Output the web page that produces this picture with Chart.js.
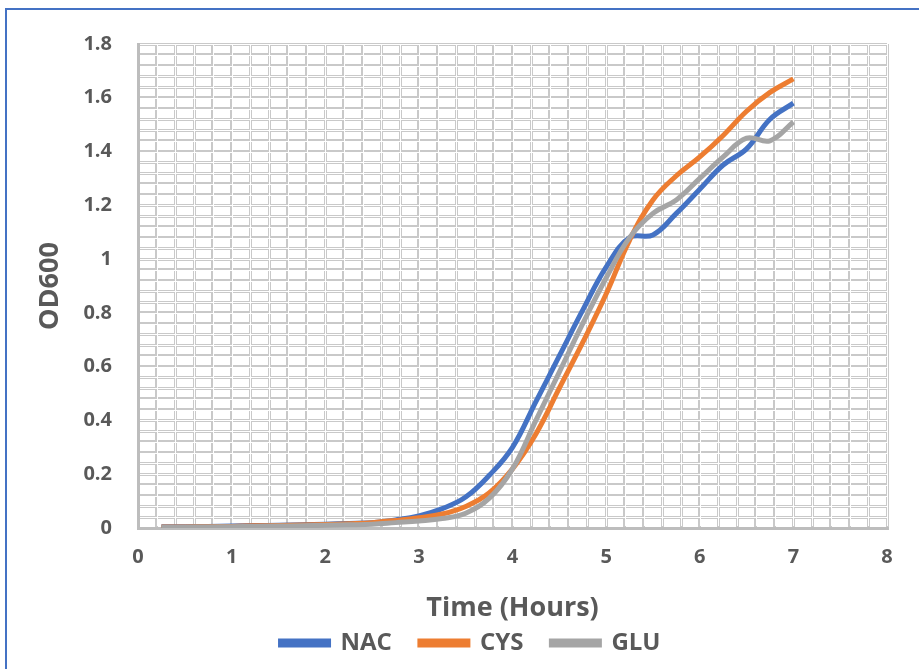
<!DOCTYPE html>
<html>
<head>
<meta charset="utf-8">
<script src="https://cdn.jsdelivr.net/npm/chart.js@4"></script>
<style>
  html, body { margin: 0; padding: 0; background: #fff; overflow: hidden; }
  #frame { position: absolute; left: 5px; top: 8px; width: 1000px; height: 1000px; border: 2px solid #4472c4; }
  #growthChart { position: absolute; left: 0; top: 0; }
</style>
</head>
<body>
<div id="frame"></div>
<canvas id="growthChart" width="919" height="669"></canvas>
<script>
// sampling times (hours)
const hours = [0.25, 0.5, 0.75, 1, 1.25, 1.5, 1.75, 2, 2.25, 2.5, 2.75, 3, 3.25, 3.5,
               3.75, 4, 4.25, 4.5, 4.75, 5, 5.25, 5.5, 5.75, 6, 6.25, 6.5, 6.75, 7];

// OD600 readings
const nac = [0.005, 0.005, 0.006, 0.007, 0.009, 0.010, 0.012, 0.014, 0.017, 0.020, 0.030, 0.045, 0.072, 0.115,
             0.195, 0.30, 0.47, 0.64, 0.81, 0.97, 1.08, 1.09, 1.17, 1.26, 1.35, 1.41, 1.52, 1.58];
const cys = [0.004, 0.004, 0.005, 0.006, 0.008, 0.009, 0.011, 0.013, 0.016, 0.020, 0.028, 0.038, 0.052, 0.08,
             0.13, 0.22, 0.35, 0.52, 0.69, 0.87, 1.07, 1.22, 1.31, 1.38, 1.46, 1.55, 1.62, 1.67];
const glu = [0.003, 0.003, 0.004, 0.005, 0.006, 0.007, 0.008, 0.010, 0.012, 0.014, 0.020, 0.026, 0.035, 0.055,
             0.11, 0.22, 0.40, 0.58, 0.76, 0.93, 1.08, 1.17, 1.22, 1.30, 1.38, 1.45, 1.44, 1.51];

const xTickLabels = [0, 1, 2, 3, 4, 5, 6, 7, 8];
const yTickLabels = [0, 0.2, 0.4, 0.6, 0.8, 1, 1.2, 1.4, 1.6, 1.8];

const textColor = '#595959';
const fontFamily = '"Open Sans", sans-serif';

function pairs(ys) {
    return hours.map((h, i) => ({ x: h, y: ys[i] }));
}

function near(list, v) {
    return list.find(t => Math.abs(t - v) < 1e-6);
}

// gridlines in the picture look doubled: gray band with a white core
const doubleGrid = {
    id: 'doubleGrid',
    beforeDatasetsDraw(chart) {
        const { ctx, chartArea: a, scales } = chart;
        ctx.save();
        ctx.strokeStyle = '#ffffff';
        ctx.lineWidth = 1;
        scales.x.ticks.forEach(t => {
            const px = Math.round(scales.x.getPixelForValue(t.value)) + 0.5;
            if (px < a.left + 2) return;
            ctx.beginPath();
            ctx.moveTo(px, a.top);
            ctx.lineTo(px, a.bottom - 2);
            ctx.stroke();
        });
        scales.y.ticks.forEach(t => {
            const py = Math.round(scales.y.getPixelForValue(t.value)) + 0.5;
            if (py > a.bottom - 2) return;
            ctx.beginPath();
            ctx.moveTo(a.left + 2, py);
            ctx.lineTo(a.right, py);
            ctx.stroke();
        });
        ctx.restore();
    }
};

// the legend in the picture sits a bit right of the canvas centre
const legendShift = {
    id: 'legendShift',
    afterLayout(chart) {
        chart.legend.left += 27;
        chart.legend.right += 27;
    }
};

const series = [
    { label: 'NAC', data: pairs(nac), color: '#4472c4', order: 3 },
    { label: 'CYS', data: pairs(cys), color: '#ed7d31', order: 2 },
    { label: 'GLU', data: pairs(glu), color: '#a5a5a5', order: 1 },
];

new Chart(document.getElementById('growthChart').getContext('2d'), {
    type: 'line',
    data: {
        datasets: series.map(s => ({
            label: s.label,
            data: s.data,
            borderColor: s.color,
            backgroundColor: s.color,
            borderWidth: 5,
            pointRadius: 0,
            tension: 0.4,
            order: s.order,
        })),
    },
    options: {
        responsive: false,
        animation: false,
        devicePixelRatio: 1,
        layout: { padding: { top: 44, right: 32, bottom: 4, left: 0 } },
        plugins: {
            tooltip: { enabled: false },
            legend: {
                position: 'bottom',
                labels: {
                    boxWidth: 48,
                    boxHeight: 4,
                    padding: 28,
                    color: textColor,
                    font: { family: fontFamily, size: 24, weight: 'bold' },
                    sort: (a, b) => a.datasetIndex - b.datasetIndex,
                },
            },
        },
        scales: {
            x: {
                type: 'linear',
                min: 0,
                max: 8,
                afterFit: (scale) => { scale.height = 75; },
                ticks: {
                    stepSize: 0.2,
                    autoSkip: false,
                    maxRotation: 0,
                    padding: 17,
                    color: textColor,
                    font: { family: fontFamily, size: 20, weight: 'bold' },
                    callback: (v) => { const t = near(xTickLabels, v); return t === undefined ? '' : String(t); },
                },
                grid: { color: '#c9c9c9', lineWidth: 3, drawTicks: false },
                border: { color: '#bdbdbd', width: 3 },
                title: {
                    display: true,
                    text: 'Time (Hours)',
                    color: textColor,
                    font: { family: fontFamily, size: 27, weight: 'bold' },
                    padding: { top: 0, bottom: -22 },
                },
            },
            y: {
                min: 0,
                max: 1.8,
                afterFit: (scale) => { scale.width = 138; },
                ticks: {
                    stepSize: 0.04,
                    autoSkip: false,
                    padding: 26,
                    color: textColor,
                    font: { family: fontFamily, size: 20, weight: 'bold' },
                    callback: (v) => { const t = near(yTickLabels, v); return t === undefined ? '' : String(t); },
                },
                grid: { color: '#c9c9c9', lineWidth: 3, drawTicks: false },
                border: { color: '#bdbdbd', width: 3 },
                title: {
                    display: true,
                    text: 'OD600',
                    color: textColor,
                    font: { family: fontFamily, size: 27, weight: 'bold' },
                    padding: { top: 34, bottom: 0 },
                },
            },
        },
    },
    plugins: [doubleGrid, legendShift],
});
</script>
</body>
</html>
